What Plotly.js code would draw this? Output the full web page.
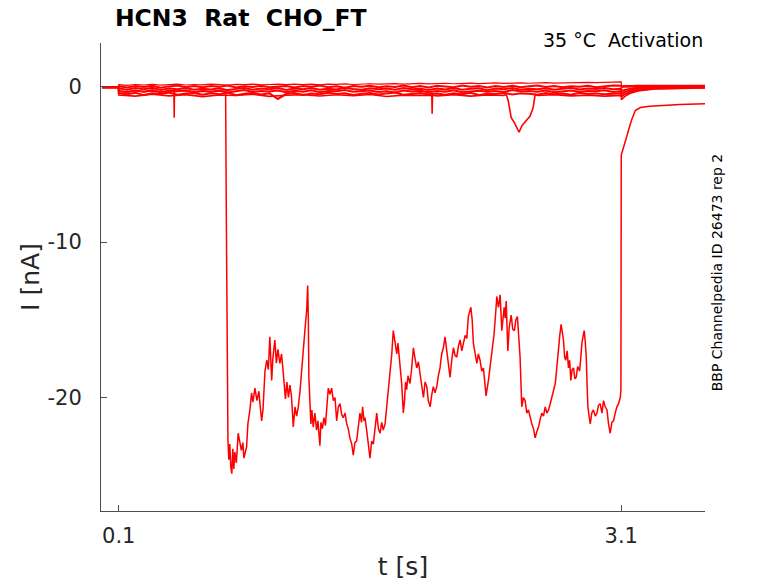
<!DOCTYPE html>
<html>
<head>
<meta charset="utf-8">
<script src="https://cdn.plot.ly/plotly-3.0.1.min.js"></script>
<style>html,body{margin:0;padding:0;background:#fff;}#chart{width:778px;height:583px;}</style>
</head>
<body>
<div id="chart"></div>
<script>
// ---------- data ----------
var xTickVals = [0.1, 3.1];
var xTickText = ["0.1", "3.1"];
var yTickVals = [0, -10, -20];
var yTickText = ["0", "-10", "-20"];

// common time bases for the small sweeps
var tPre  = [0, 0.05, 0.099];
var tGrid = [0.1,0.15,0.2,0.25,0.3,0.35,0.4,0.45,0.5,0.55,
             0.6,0.65,0.7,0.75,0.8,0.85,0.9,0.95,1.0,1.05,
             1.1,1.15,1.2,1.25,1.3,1.35,1.4,1.45,1.5,1.55,
             1.6,1.65,1.7,1.75,1.8,1.85,1.9,1.95,2.0,2.05,
             2.1,2.15,2.2,2.25,2.3,2.35,2.4,2.45,2.5,2.55,
             2.6,2.65,2.7,2.75,2.8,2.85,2.9,2.95,3.0,3.05,
             3.1];
var tPost = [3.101, 3.12, 3.15, 3.2, 3.3, 3.45, 3.6];

// sweep 1 (top)
var s1Pre  = [0.0, 0.01, 0.0];
var s1Step = [0.12,0.08,0.13,0.10,0.14,0.09,0.12,0.15,0.10,0.13,
              0.11,0.15,0.12,0.09,0.14,0.12,0.16,0.11,0.13,0.15,
              0.12,0.16,0.13,0.15,0.11,0.16,0.14,0.17,0.13,0.16,
              0.18,0.15,0.17,0.19,0.16,0.18,0.20,0.17,0.19,0.21,
              0.18,0.20,0.22,0.19,0.21,0.23,0.20,0.22,0.24,0.21,
              0.23,0.25,0.22,0.24,0.26,0.24,0.27,0.25,0.28,0.27,
              0.30];
var s1Post = [0.05,0.06,0.06,0.07,0.07,0.08,0.08];

// sweep 2
var s2Pre  = [-0.03,-0.02,-0.03];
var s2Step = [0.02,-0.06,0.04,-0.03,0.05,-0.07,0.01,0.06,-0.04,0.03,
              -0.05,0.04,-0.02,0.06,-0.06,0.02,-0.03,0.05,-0.05,0.01,
              0.04,-0.06,0.03,-0.02,0.06,-0.04,0.02,-0.07,0.04,-0.01,
              0.05,-0.05,0.02,-0.03,0.06,-0.04,0.03,-0.06,0.05,0.00,
              -0.04,0.06,-0.02,0.04,-0.06,0.03,-0.03,0.05,-0.05,0.02,
              0.06,-0.03,0.04,-0.05,0.02,-0.02,0.05,-0.04,0.03,0.07,
              0.05];
var s2Post = [-0.02,-0.01,0.0,0.01,0.02,0.02,0.03];

// sweep 3
var s3Pre  = [-0.04,-0.05,-0.04];
var s3Step = [-0.12,-0.20,-0.10,-0.18,-0.08,-0.22,-0.13,-0.17,-0.09,-0.21,
              -0.14,-0.19,-0.11,-0.23,-0.15,-0.10,-0.20,-0.12,-0.18,-0.09,
              -0.22,-0.13,-0.17,-0.10,-0.21,-0.14,-0.19,-0.08,-0.16,-0.20,
              -0.11,-0.18,-0.13,-0.21,-0.09,-0.17,-0.14,-0.22,-0.12,-0.19,
              -0.10,-0.20,-0.15,-0.11,-0.23,-0.13,-0.18,-0.09,-0.21,-0.14,
              -0.17,-0.11,-0.20,-0.13,-0.08,-0.19,-0.12,-0.16,-0.10,-0.18,
              -0.14];
var s3Post = [-0.30,-0.22,-0.15,-0.08,-0.04,-0.02,-0.01];

// sweep 4
var s4Pre  = [-0.06,-0.05,-0.07];
var s4Step = [-0.28,-0.35,-0.25,-0.33,-0.22,-0.36,-0.27,-0.31,-0.24,-0.37,
              -0.29,-0.34,-0.26,-0.38,-0.30,-0.23,-0.35,-0.28,-0.32,-0.25,
              -0.36,-0.27,-0.33,-0.24,-0.37,-0.29,-0.31,-0.22,-0.34,-0.28,
              -0.25,-0.35,-0.30,-0.38,-0.26,-0.32,-0.27,-0.36,-0.29,-0.33,
              -0.24,-0.37,-0.31,-0.27,-0.34,-0.28,-0.35,-0.23,-0.32,-0.29,
              -0.33,-0.26,-0.36,-0.30,-0.25,-0.34,-0.28,-0.31,-0.24,-0.35,
              -0.30];
var s4Post = [-0.48,-0.36,-0.25,-0.15,-0.08,-0.05,-0.04];

// sweep 5
var s5Pre  = [-0.07,-0.08,-0.06];
var s5Step = [-0.42,-0.50,-0.40,-0.55,-0.44,-0.48,-0.38,-0.52,-0.45,-0.41,
              -0.53,-0.43,-0.49,-0.39,-0.56,-0.46,-0.42,-0.51,-0.44,-0.80,
              -0.47,-0.41,-0.54,-0.45,-0.50,-0.40,-0.48,-0.43,-0.55,-0.46,
              -0.42,-0.51,-0.44,-0.39,-0.53,-0.47,-0.41,-0.49,-0.45,-0.52,
              -0.43,-0.50,-0.40,-0.54,-0.46,-0.48,-0.42,-0.51,-0.44,-0.47,
              -0.53,-0.41,-0.49,-0.45,-0.52,-0.40,-0.48,-0.44,-0.50,-0.46,
              -0.43];
var s5Post = [-0.66,-0.50,-0.35,-0.22,-0.12,-0.08,-0.06];

// sweep 6 (own time base: spike near 1.97 s and transient dip near 2.5 s)
var t6Step = [0.1,0.2,0.3,0.4,0.5,0.6,0.7,0.8,0.9,1.0,
              1.1,1.2,1.3,1.4,1.5,1.6,1.7,1.8,1.9,
              1.969,1.971,1.973,
              2.0,2.1,2.2,2.3,2.4,
              2.413,2.425,2.443,2.461,2.473,2.49,2.508,2.532,2.556,2.574,2.586,
              2.6,2.7,2.8,2.9,3.0,3.1];
var s6Pre  = [-0.05,-0.06,-0.05];
var s6Step = [-0.55,-0.62,-0.50,-0.60,-0.52,-0.65,-0.54,-0.58,-0.50,-0.63,
              -0.56,-0.52,-0.61,-0.53,-0.59,-0.51,-0.64,-0.55,-0.57,
              -0.55,-1.75,-0.56,
              -0.60,-0.52,-0.62,-0.54,-0.58,
              -0.50,-0.9,-2.0,-2.3,-2.6,-2.94,-2.5,-2.2,-1.9,-1.35,-0.5,
              -0.58,-0.52,-0.60,-0.55,-0.62,-0.57];
var s6Post = [-0.85,-0.65,-0.45,-0.28,-0.16,-0.11,-0.09];

// large sweep
var tBigPre = [0,0.05,0.099,0.1,0.15,0.2,0.25,0.3,0.35,0.4,
               0.429,0.431,0.433,0.5,0.55,0.6,0.65,0.7,0.738,0.742,
               0.745,0.747,0.749,0.752,0.757];
var iBigPre = [-0.01,0.0,-0.02,-0.30,-0.36,-0.26,-0.33,-0.28,-0.37,-0.31,
               -0.30,-2.0,-0.32,-0.27,-0.35,-0.29,-0.34,-0.31,-0.30,-8.0,
               -14.6,-15.2,-19.0,-22.8,-24.0];
var tBig = [0.763,0.769,0.775,0.781,0.787,0.793,0.802,0.813,0.823,0.832,
            0.841,0.847,0.863,0.871,0.883,0.893,0.901,0.913,0.925,0.937,
            0.943,0.953,0.961,0.973,0.984,0.993,1.002,1.013,1.020,1.032,
            1.041,1.050,1.062,1.072,1.086,1.095,1.104,1.113,1.122,1.131,
            1.142,1.152,1.162,1.172,1.182,1.192,1.201,1.212,1.222,1.228,
            1.232,1.235,1.247,1.253,1.261,1.271,1.281,1.289,1.301,1.307,
            1.316,1.325,1.334,1.343,1.351,1.361,1.371,1.381,1.391,1.401,
            1.411,1.421,1.431,1.440,1.451,1.461,1.470,1.480,1.491,1.500,
            1.510,1.520,1.530,1.540,1.549,1.556,1.564,1.570,1.580,1.590,
            1.600,1.610,1.620,1.630,1.640,1.650,1.660,1.670,1.679,1.690,
            1.700,1.709,1.720,1.730,1.739,1.749,1.760,1.767,1.773,1.782,
            1.789,1.799,1.806,1.812,1.819,1.827,1.839,1.848,1.859,1.869,
            1.879,1.889,1.899,1.909,1.919,1.929,1.939,1.948,1.959,1.969,
            1.978,1.988,1.999,2.008,2.018,2.028,2.038,2.048,2.058,2.068,
            2.078,2.088,2.098,2.108,2.118,2.128,2.138,2.148,2.158,2.168,
            2.178,2.187,2.202,2.210,2.217,2.228,2.238,2.247,2.257,2.267,
            2.277,2.287,2.293,2.307,2.317,2.327,2.341,2.350,2.357,2.367,
            2.377,2.387,2.395,2.401,2.407,2.413,2.423,2.431,2.443,2.452,
            2.462,2.471,2.480,2.487,2.496,2.506,2.516,2.526,2.536,2.546,
            2.556,2.566,2.576,2.586,2.596,2.606,2.616,2.626,2.636,2.646,
            2.656,2.666,2.676,2.686,2.696,2.706,2.716,2.725,2.733,2.741,
            2.747,2.755,2.762,2.769,2.777,2.785,2.792,2.799,2.807,2.815,
            2.823,2.831,2.840,2.851,2.858,2.865,2.873,2.879,2.885,2.891,
            2.897,2.901,2.909,2.915,2.924,2.934,2.945,2.955,2.964,2.974,
            2.985,2.994,3.004,3.015,3.024,3.034,3.044,3.054,3.064,3.074,
            3.084,3.094,3.098];
var iBig = [-23.0,-24.5,-24.9,-23.3,-24.6,-23.5,-24.2,-22.3,-22.8,-23.4,
            -22.9,-23.9,-23.2,-21.7,-20.8,-19.7,-20.3,-19.4,-20.2,-19.6,
            -20.4,-21.5,-20.8,-18.3,-17.6,-18.2,-16.1,-18.9,-17.5,-16.3,
            -17.8,-16.9,-17.8,-17.2,-18.9,-20.1,-19.0,-20.0,-19.2,-19.9,
            -21.9,-20.6,-21.2,-20.6,-19.6,-18.1,-17.0,-15.6,-14.4,-12.8,
            -15.0,-18.7,-21.7,-20.8,-21.9,-21.0,-22.1,-21.5,-23.1,-21.6,
            -22.0,-21.3,-21.8,-20.5,-19.4,-19.8,-19.4,-20.2,-20.0,-21.5,
            -20.6,-20.4,-21.1,-21.3,-21.0,-21.7,-22.0,-22.6,-23.0,-23.7,
            -22.9,-22.8,-21.8,-21.0,-21.6,-20.6,-21.5,-21.3,-22.1,-22.9,
            -23.9,-22.8,-23.0,-22.0,-21.0,-22.0,-22.3,-21.6,-22.1,-21.7,
            -20.5,-19.4,-18.6,-17.2,-15.7,-16.6,-17.2,-16.5,-17.1,-18.3,
            -19.1,-21.0,-20.2,-19.0,-19.5,-18.6,-19.1,-18.2,-16.8,-17.5,
            -18.1,-17.7,-18.5,-19.2,-20.0,-19.0,-19.3,-20.2,-20.6,-19.8,
            -19.3,-19.7,-19.3,-18.6,-18.1,-17.2,-16.8,-16.1,-17.0,-17.8,
            -18.7,-17.6,-16.8,-17.3,-17.4,-16.7,-16.3,-17.0,-16.5,-16.0,
            -16.2,-14.8,-14.2,-15.0,-16.5,-17.2,-17.8,-17.2,-17.6,-18.3,
            -18.1,-19.2,-19.9,-18.9,-18.0,-17.4,-15.9,-14.6,-13.5,-14.2,
            -13.4,-15.7,-14.6,-14.2,-14.9,-13.8,-17.0,-15.5,-14.7,-15.6,
            -15.7,-15.0,-14.8,-16.0,-17.4,-20.6,-20.0,-20.2,-21.0,-20.8,
            -21.3,-21.7,-22.0,-22.6,-22.2,-21.9,-21.4,-21.0,-21.2,-20.6,
            -21.0,-20.8,-20.4,-20.0,-19.6,-19.1,-18.0,-16.8,-16.0,-15.3,
            -15.8,-16.3,-17.4,-17.6,-17.0,-18.1,-17.6,-18.9,-18.2,-18.1,
            -18.8,-18.7,-18.0,-18.3,-17.5,-16.5,-16.0,-15.7,-16.4,-17.4,
            -19.5,-20.6,-21.3,-21.7,-21.0,-20.8,-21.2,-21.0,-20.5,-20.4,
            -21.0,-20.2,-20.6,-20.8,-21.7,-22.3,-21.6,-21.5,-21.0,-20.6,
            -20.4,-20.0,-19.5];
var tBigPost = [3.100,3.114,3.14,3.16,3.184,3.214,3.27,3.333,3.45,3.6];
var iBigPost = [-4.4,-3.9,-2.9,-2.2,-1.54,-1.35,-1.27,-1.22,-1.16,-1.11];

// ---------- traces ----------
var RED = '#ff0000';
function sweep(t, v, w) {
  return {x: t, y: v, type: 'scatter', mode: 'lines',
          line: {color: RED, width: w || 1}, hoverinfo: 'skip', showlegend: false};
}
var tSmall = tPre.concat(tGrid, tPost);
var t6 = tPre.concat(t6Step, tPost);
var data = [
  sweep(tSmall, s1Pre.concat(s1Step, s1Post), 1.2),
  sweep(tSmall, s2Pre.concat(s2Step, s2Post), 2),
  sweep(tSmall, s3Pre.concat(s3Step, s3Post), 2),
  sweep(tSmall, s4Pre.concat(s4Step, s4Post), 2),
  sweep(tSmall, s5Pre.concat(s5Step, s5Post), 2),
  sweep(t6, s6Pre.concat(s6Step, s6Post), 1.6),
  sweep(tBigPre.concat(tBig, tBigPost), iBigPre.concat(iBig, iBigPost), 1.5)
];

var FONT = 'DejaVu Sans, Liberation Sans, sans-serif';
var layout = {
  width: 778, height: 583,
  margin: {l: 101, r: 73, t: 43, b: 72, pad: 0},
  paper_bgcolor: '#ffffff', plot_bgcolor: '#ffffff',
  showlegend: false,
  title: {
    text: '<b>HCN3\u00a0\u00a0Rat\u00a0\u00a0CHO_FT</b>',
    font: {family: FONT, size: 23.5, color: '#000000'},
    xref: 'paper', x: 0.023, xanchor: 'left',
    yref: 'container', y: 0.969, yanchor: 'middle'
  },
  xaxis: {
    range: [-0.006, 3.6], showgrid: false, zeroline: false,
    showline: true, linecolor: '#4d4d4d', linewidth: 1, mirror: false,
    ticks: 'inside', ticklen: 6, tickcolor: '#4d4d4d', tickwidth: 1,
    tickmode: 'array', tickvals: xTickVals, ticktext: xTickText,
    tickfont: {family: FONT, size: 21, color: '#262626'},
    ticklabelstandoff: 6,
    title: {text: 't [s]', font: {family: FONT, size: 25, color: '#262626'}, standoff: 10}
  },
  yaxis: {
    range: [-27.3, 2.8], showgrid: false, zeroline: false,
    showline: true, linecolor: '#4d4d4d', linewidth: 1, mirror: false,
    ticks: 'inside', ticklen: 6, tickcolor: '#4d4d4d', tickwidth: 1,
    tickmode: 'array', tickvals: yTickVals, ticktext: yTickText,
    tickfont: {family: FONT, size: 21, color: '#262626'},
    ticklabelstandoff: 14,
    title: {text: 'I [nA]', font: {family: FONT, size: 25, color: '#262626'}, standoff: 0}
  },
  annotations: [
    {text: '35 \u00b0C\u00a0\u00a0Activation', xref: 'paper', yref: 'paper',
     x: 1.0, y: 1.006, xanchor: 'right', yanchor: 'middle', showarrow: false,
     font: {family: FONT, size: 19, color: '#000000'}},
    {text: 'BBP Channelpedia ID 26473 rep 2', xref: 'paper', yref: 'paper',
     x: 1.019, y: 0.511, xanchor: 'center', yanchor: 'middle', showarrow: false,
     textangle: -90, font: {family: FONT, size: 14, color: '#000000'}}
  ]
};

Plotly.newPlot('chart', data, layout, {staticPlot: true, displayModeBar: false});
</script>
</body>
</html>
